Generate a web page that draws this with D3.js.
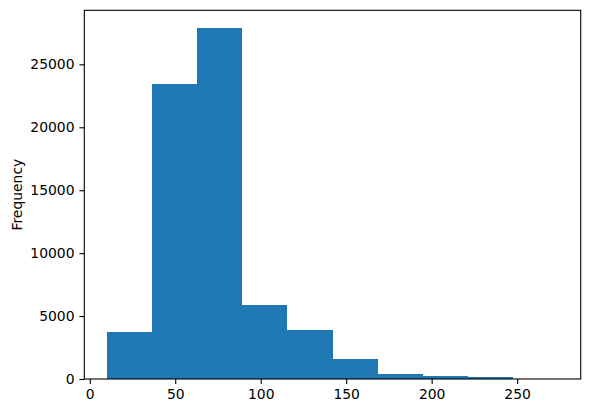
<!DOCTYPE html>
<html>
<head>
<meta charset="utf-8">
<script src="https://cdn.jsdelivr.net/npm/d3@7"></script>
<style>
 body { margin: 0; background: white; }
 text { font-family: "DejaVu Sans", sans-serif; fill: #000; }
</style>
</head>
<body>
<script>
 // histogram bins (10 equal bins)
 var binEdges = [10, 36.4, 62.8, 89.2, 115.6, 142, 168.4, 194.8, 221.2, 247.6, 274];
 var counts = [3730, 23410, 27900, 5900, 3890, 1590, 400, 240, 160, 20];
 var xTicks = [0, 50, 100, 150, 200, 250];
 var yTicks = [0, 5000, 10000, 15000, 20000, 25000];

 // svg margin parameters
 var margin = { top: 10.3, right: 8.3, bottom: 34, left: 84.3 };
 var width = 589 - margin.left - margin.right,
 	height = 413 - margin.top - margin.bottom;

 var svg = d3.select("body").append("svg")
 	.attr("width", 589)
 	.attr("height", 413)
 	.append("g")
 	.attr("transform", "translate(" + margin.left + "," + margin.top + ")");

 // matplotlib style 5% margins on x, 5% headroom on y
 var span = binEdges[binEdges.length - 1] - binEdges[0];
 var x = d3.scaleLinear()
 	.domain([binEdges[0] - 0.05 * span, binEdges[binEdges.length - 1] + 0.05 * span])
 	.range([0, width]);
 var y = d3.scaleLinear()
 	.domain([0, d3.max(counts) * 1.05])
 	.range([height, 0]);

 var bins = counts.map(function (c, i) {
 	return { x0: binEdges[i], x1: binEdges[i + 1], n: c };
 });

 // bars
 svg.selectAll("rect.bar")
 	.data(bins)
 	.enter().append("rect")
 	.attr("class", "bar")
 	.attr("x", function (d) { return x(d.x0); })
 	.attr("width", function (d) { return x(d.x1) - x(d.x0); })
 	.attr("y", function (d) { return y(d.n); })
 	.attr("height", function (d) { return height - y(d.n); })
 	.attr("fill", "#1f77b4")
 	.attr("shape-rendering", "crispEdges");

 // axes
 var xAxis = svg.append("g")
 	.attr("transform", "translate(0," + height + ")")
 	.call(d3.axisBottom(x).tickValues(xTicks).tickSize(4.9).tickPadding(4.9).tickFormat(d3.format("d")));
 var yAxis = svg.append("g")
 	.call(d3.axisLeft(y).tickValues(yTicks).tickSize(4.9).tickPadding(4.9).tickFormat(d3.format("d")));

 [xAxis, yAxis].forEach(function (a) {
 	a.select(".domain").remove();
 	a.selectAll("line").attr("stroke", "#000").attr("stroke-width", 1.1);
 	a.selectAll("text").style("font-size", "13.9px").style("font-family", "DejaVu Sans");
 });

 // spines
 svg.append("rect")
 	.attr("width", width)
 	.attr("height", height)
 	.attr("fill", "none")
 	.attr("stroke", "#000")
 	.attr("stroke-width", 1.1);

 // y label
 svg.append("text")
 	.attr("transform", "translate(" + (17 - margin.left) + "," + (height / 2) + ") rotate(-90)")
 	.attr("text-anchor", "middle")
 	.attr("dy", "0.35em")
 	.style("font-size", "13.9px")
 	.text("Frequency");
</script>
</body>
</html>
